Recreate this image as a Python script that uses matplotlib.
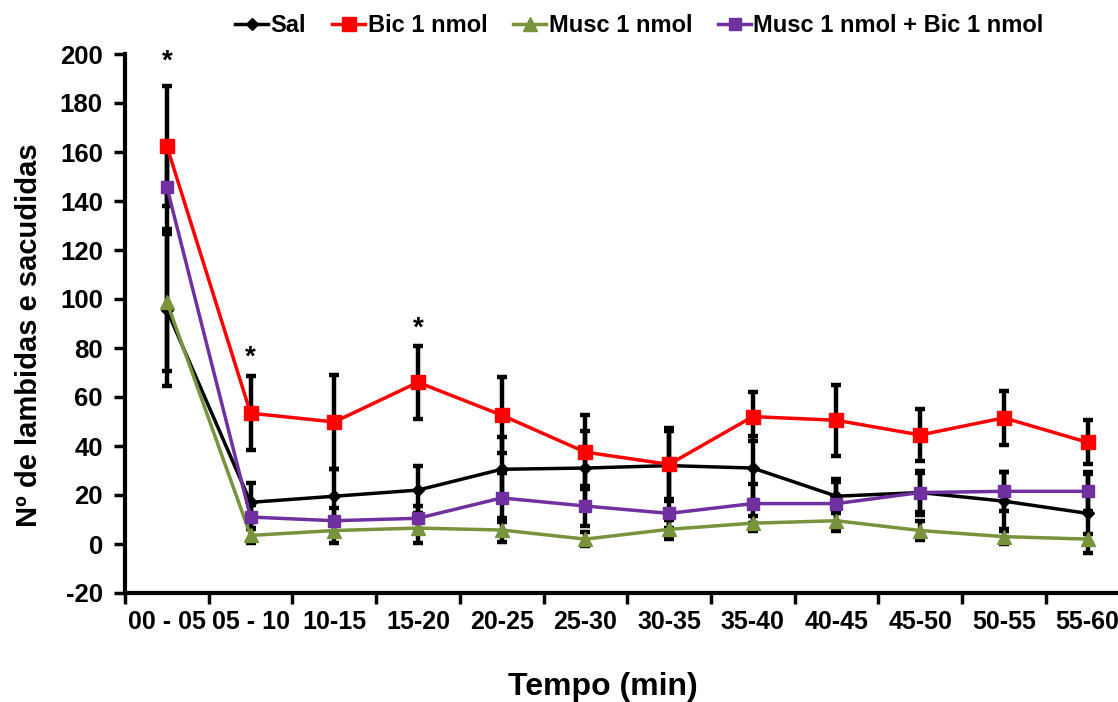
import matplotlib
matplotlib.use("Agg")
import matplotlib.pyplot as plt
import numpy as np

# dados
tempos = ["00 - 05", "05 - 10", "10-15", "15-20", "20-25", "25-30",
          "30-35", "35-40", "40-45", "45-50", "50-55", "55-60"]

sal = [95.5, 17, 19.5, 22, 30.5, 31, 32, 31, 19.5, 21, 17.5, 12.5]
sal_err = [31, 8, 11, 10, 13, 15, 14, 13, 7, 9, 12, 16]

bic = [162.4, 53.4, 49.8, 66, 52.6, 37.5, 32.5, 52, 50.5, 44.5, 51.5, 41.5]
bic_err = [24.5, 15, 19, 15, 15.5, 15, 15, 10, 14.5, 10.5, 11, 9]

musc = [98.8, 3.5, 5.5, 6.5, 5.7, 2, 6, 8.5, 9.5, 5.5, 3, 2]
musc_err = [28, 3, 5, 6, 5, 3, 4, 3, 4, 4, 3, 2]

musc_bic = [145.7, 11, 9.5, 10.5, 18.8, 15.5, 12.5, 16.5, 16.5, 21, 21.5, 21.5]
musc_bic_err = [17, 5, 5, 5, 10, 8, 6, 8, 9, 8, 8, 8]

# asteriscos de significancia (posicao, altura)
sig_idx = [0, 1, 3]
sig_y = [197, 76, 88]

plt.rcParams['font.family'] = ['Liberation Sans', 'DejaVu Sans']
plt.rcParams['font.weight'] = 'bold'
plt.rcParams['axes.unicode_minus'] = False

fig = plt.figure(figsize=(11.18, 7.02), dpi=100)
ax = fig.add_axes([125 / 1118, 109 / 702, 993 / 1118, 539 / 702])

x = np.arange(len(tempos))

series = [
    ("Sal", sal, sal_err, "black", "D", 6),
    ("Bic 1 nmol", bic, bic_err, "#FF0000", "s", 10),
    ("Musc 1 nmol", musc, musc_err, "#77933C", "^", 10),
    ("Musc 1 nmol + Bic 1 nmol", musc_bic, musc_bic_err, "#7030A0", "s", 9),
]

for nome, y, err, cor, mk, ms in series:
    ax.errorbar(x, y, yerr=err, fmt="none", ecolor="black", elinewidth=3.2,
                capsize=3.5, capthick=3.2, zorder=2)

for nome, y, err, cor, mk, ms in series:
    ax.plot(x, y, color=cor, marker=mk, markersize=ms, linewidth=2.5,
            label=nome, zorder=3)

for i, yy in zip(sig_idx, sig_y):
    ax.text(x[i], yy, "*", ha="center", va="center", fontsize=20,
            fontweight="bold")

ax.set_xlim(-0.5, 993 / 83.7 - 0.5)
ax.set_ylim(-20, 200)
ax.set_yticks(range(-20, 201, 20))

ax.set_xticks(x)
ax.set_xticklabels(tempos)
ax.set_xticks(np.arange(len(tempos)) - 0.5, minor=True)
ax.tick_params(axis="x", which="major", length=0, pad=12, labelsize=18)
ax.tick_params(axis="x", which="minor", length=8, width=2.5, direction="out")
ax.tick_params(axis="y", length=8, width=2.5, direction="out", labelsize=18.5,
               pad=8)

for s in ["top", "right"]:
    ax.spines[s].set_visible(False)
for s in ["left", "bottom"]:
    ax.spines[s].set_linewidth(3)

ax.set_ylabel("Nº de lambidas e sacudidas", fontsize=21, fontweight="bold")
ax.yaxis.set_label_coords(-82 / 993, (593 - 335) / 539)
ax.set_xlabel("Tempo (min)", fontsize=23, fontweight="bold")
ax.xaxis.set_label_coords((603 - 125) / 993, -(672 - 593) / 539)

fig.legend(loc="center", bbox_to_anchor=(0.572, 0.963), ncol=4, frameon=False,
           handlelength=1.4, handletextpad=0.1, columnspacing=1.1,
           prop={"weight": "bold", "size": 17})

fig.savefig("out.png", dpi=100)
